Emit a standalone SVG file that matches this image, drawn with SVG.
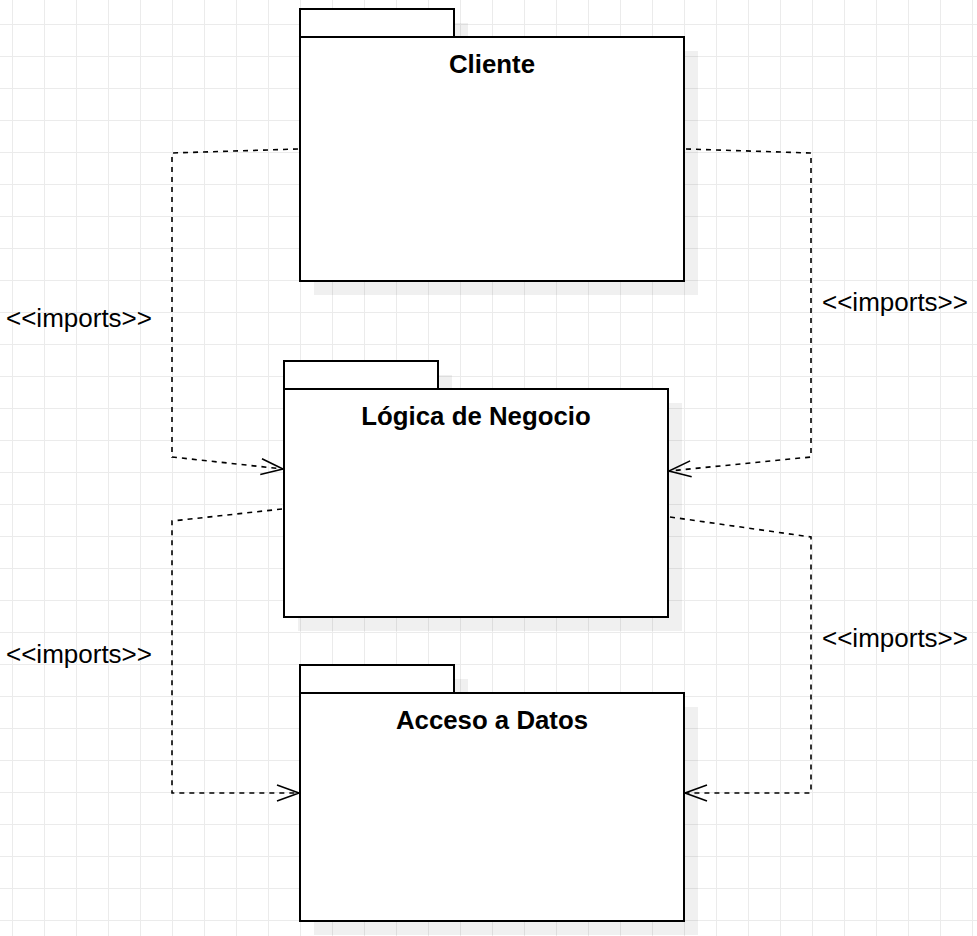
<svg xmlns="http://www.w3.org/2000/svg" width="977" height="936" viewBox="0 0 977 936">
<style>
.box{fill:#ffffff;stroke:#000000;stroke-width:2}
.shadow{fill:#000000;fill-opacity:0.06;stroke:none}
.title{font-family:"Liberation Sans",Arial,sans-serif;font-weight:bold;font-size:25.8px;text-anchor:middle;fill:#000000}
.lbl{font-family:"Liberation Sans",Arial,sans-serif;font-size:26px;text-anchor:middle;fill:#000000}
.dep{fill:none;stroke:#000000;stroke-width:1.6;stroke-dasharray:5 5;marker-end:url(#open)}
</style>
<defs>
<pattern id="grid" x="12" y="24" width="32" height="32" patternUnits="userSpaceOnUse">
<path d="M0.5,0 V32 M0,0.5 H32" fill="none" stroke="#ebebeb" stroke-width="1"/>
</pattern>
<marker id="open" markerUnits="userSpaceOnUse" markerWidth="26" markerHeight="20" refX="23" refY="10" orient="auto" viewBox="0 0 26 20">
<path d="M1,2 L23,10 L1,18" fill="none" stroke="#000000" stroke-width="1.6" stroke-dasharray="none"/>
</marker>
</defs>
<rect width="977" height="936" fill="#ffffff"/>
<rect width="977" height="936" fill="url(#grid)"/>
<g id="connectors">
<path class="dep" d="M298,149 L172,153 L172,457 L283,469"/>
<path class="dep" d="M686,149 L811,153 L811,457 L669,471"/>
<path class="dep" d="M282,509 L172,521 L172,793 L299,793"/>
<path class="dep" d="M670,517 L811,537 L811,793 L685,793"/>
<text class="lbl" x="79" y="327">&lt;&lt;imports&gt;&gt;</text>
<text class="lbl" x="895" y="311">&lt;&lt;imports&gt;&gt;</text>
<text class="lbl" x="79" y="663">&lt;&lt;imports&gt;&gt;</text>
<text class="lbl" x="895" y="647">&lt;&lt;imports&gt;&gt;</text>
</g>
<g id="cliente">
<rect class="shadow" x="314" y="23" width="154" height="28"/>
<rect class="shadow" x="314" y="51" width="384" height="244"/>
<rect class="box" x="300" y="9" width="154" height="28"/>
<rect class="box" x="300" y="37" width="384" height="244"/>
<text class="title" x="492" y="73">Cliente</text>
</g>
<g id="logica">
<rect class="shadow" x="298" y="375" width="154" height="28"/>
<rect class="shadow" x="298" y="403" width="384" height="228"/>
<rect class="box" x="284" y="361" width="154" height="28"/>
<rect class="box" x="284" y="389" width="384" height="228"/>
<text class="title" x="476" y="425">Lógica de Negocio</text>
</g>
<g id="acceso">
<rect class="shadow" x="314" y="679" width="154" height="28"/>
<rect class="shadow" x="314" y="707" width="384" height="228"/>
<rect class="box" x="300" y="665" width="154" height="28"/>
<rect class="box" x="300" y="693" width="384" height="228"/>
<text class="title" x="492" y="729">Acceso a Datos</text>
</g>
</svg>
